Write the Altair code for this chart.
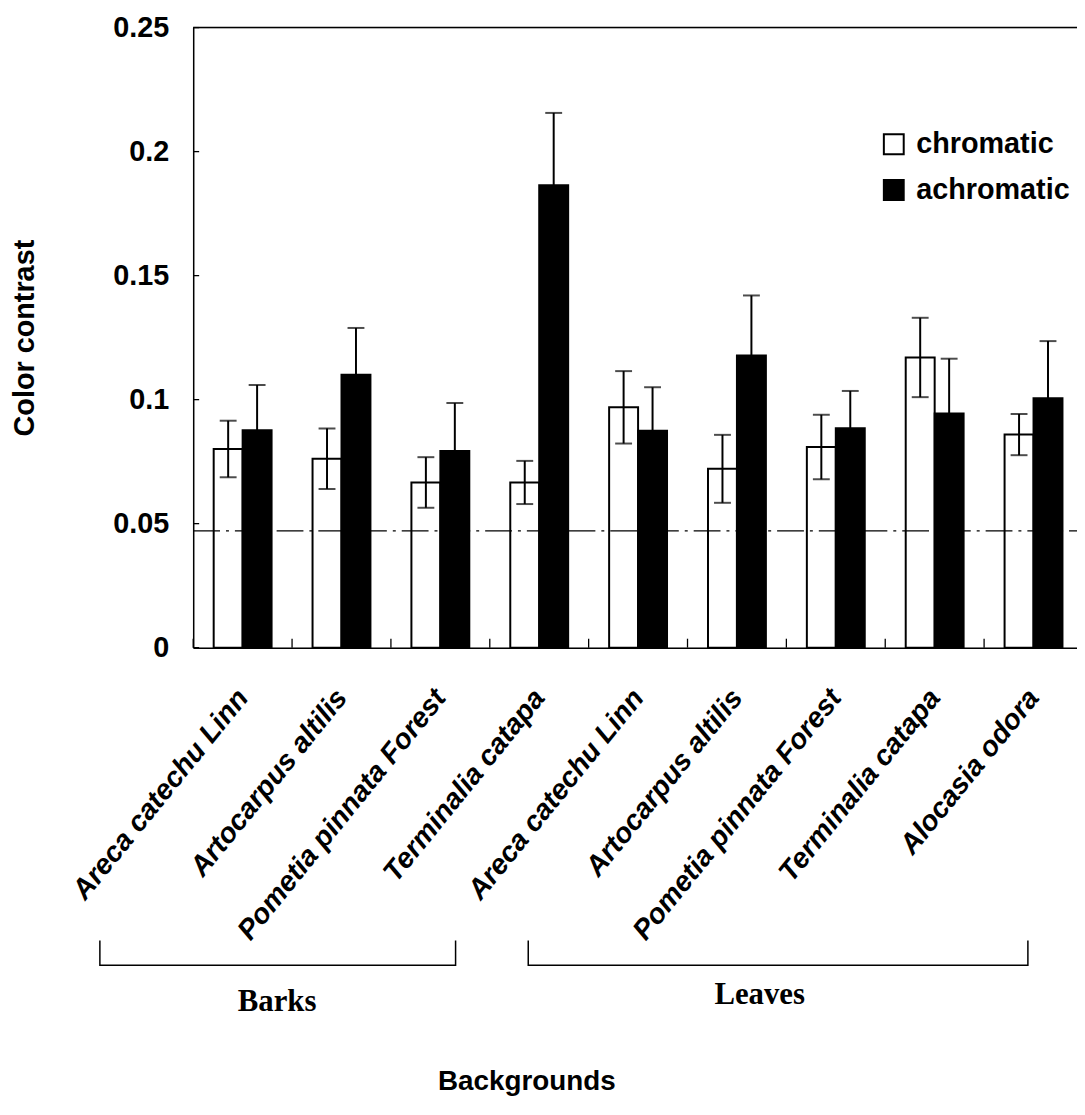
import altair as alt
import pandas as pd

# ---------------- data ----------------
names = ["Areca catechu Linn", "Artocarpus altilis", "Pometia pinnata Forest",
         "Terminalia catapa", "Areca catechu Linn", "Artocarpus altilis",
         "Pometia pinnata Forest", "Terminalia catapa", "Alocasia odora"]
series = ["chromatic", "achromatic"]
chromatic = [0.0801, 0.0762, 0.0666, 0.0666, 0.0969, 0.0721, 0.0809, 0.1170, 0.0859]
chromatic_err = [0.0114, 0.0122, 0.0102, 0.0087, 0.0146, 0.0137, 0.0130, 0.0160, 0.0083]
achromatic = [0.0877, 0.1100, 0.0793, 0.1864, 0.0875, 0.1178, 0.0885, 0.0944, 0.1006]
achromatic_err = [0.0182, 0.0189, 0.0193, 0.0292, 0.0175, 0.0242, 0.0150, 0.0221, 0.0230]
threshold = 0.0471
y_ticks = [0, 0.05, 0.1, 0.15, 0.2, 0.25]

# group brackets (x in category units, y in data units)
bracket_names = ["Barks", "Leaves"]
bracket_start = [-0.944, 3.389]
bracket_end = [2.654, 8.443]
bracket_top = -0.1181
bracket_bottom = -0.1281
bracket_label_x = [0.849, 5.730]
bracket_label_y = [-0.1428, -0.1400]

# ---------------- tables ----------------
keys = [f"{i}|{n}" for i, n in enumerate(names)]
rows = []
for k, c, ce, a, ae in zip(keys, chromatic, chromatic_err, achromatic, achromatic_err):
    rows.append(dict(cat=k, series="chromatic", value=c, lo=c - ce, hi=c + ce))
    rows.append(dict(cat=k, series="achromatic", value=a, lo=a - ae, hi=a + ae))
df = pd.DataFrame(rows)
cat_df = pd.DataFrame({"cat": keys})
ytick_df = pd.DataFrame({"v": y_ticks})

br_rows = []
for g, s, e in zip(bracket_names, bracket_start, bracket_end):
    br_rows += [dict(g=g, o=0, x=s, y=bracket_top), dict(g=g, o=1, x=s, y=bracket_bottom),
                dict(g=g, o=2, x=e, y=bracket_bottom), dict(g=g, o=3, x=e, y=bracket_top)]
br_df = pd.DataFrame(br_rows)
brl_df = pd.DataFrame({"g": bracket_names, "x": bracket_label_x, "y": bracket_label_y})

# ---------------- layout ----------------
W = 890
H = 624.4
RANGE = 896
SANS = "Liberation Sans"
SERIF = "Liberation Serif"

xscale = alt.Scale(domain=keys, range=[0, RANGE], paddingInner=0, paddingOuter=0)
offscale = alt.Scale(domain=series, paddingInner=0, paddingOuter=0.7077)
yscale = alt.Scale(domain=[0, 0.25], nice=False, zero=False)

x_axis = alt.Axis(
    labelExpr="split(datum.label, '|')[1]",
    labelAngle=-51, labelAlign="right", labelBaseline="middle",
    labelFont=SANS, labelFontSize=28.5, labelFontWeight="bold", labelFontStyle="italic",
    labelColor="black", labelPadding=45, labelLimit=0, labelOverlap=False,
    ticks=False, domainColor="black", domainWidth=1.5, grid=False,
    title="Backgrounds", titleFont=SANS, titleFontSize=28, titleFontWeight="bold",
    titleColor="black", titleX=335.5, titleY=436.7, titleAlign="center",
    titleBaseline="middle",
)
y_axis = alt.Axis(
    values=y_ticks, format=".2~f",
    labelFont=SANS, labelFontSize=29, labelFontWeight="bold", labelColor="black",
    labelPadding=24.5, ticks=False, domainColor="black", domainWidth=1.5, grid=False,
    title="Color contrast", titleFont=SANS, titleFontSize=29, titleFontWeight="bold",
    titleColor="black", titleX=-169.5, titleY=H / 2, titleAlign="center",
    titleBaseline="middle", titleAngle=-90,
)

bars = alt.Chart(df).mark_bar(stroke="black", strokeWidth=2).encode(
    x=alt.X("cat:N", scale=xscale, axis=x_axis, sort=keys),
    xOffset=alt.XOffset("series:N", scale=offscale, sort=series),
    y=alt.Y("value:Q", scale=yscale, axis=y_axis),
    fill=alt.Fill("series:N", scale=alt.Scale(domain=series, range=["white", "black"]),
                  legend=alt.Legend(orient="none", legendX=691, legendY=103, title=None,
                                    symbolType="square", symbolSize=400,
                                    symbolStrokeColor="black", symbolStrokeWidth=2,
                                    labelFont=SANS, labelFontSize=29, labelFontWeight="bold",
                                    labelColor="black", labelOffset=8, rowPadding=16,
                                    padding=0)),
)

err = alt.Chart(df).mark_rule(color="black", strokeWidth=2).encode(
    x=alt.X("cat:N", scale=xscale, sort=keys),
    xOffset=alt.XOffset("series:N", scale=offscale, sort=series),
    y=alt.Y("lo:Q", scale=yscale),
    y2="hi:Q",
)
cap_hi = alt.Chart(df).mark_tick(color="black", thickness=2, size=17, orient="horizontal").encode(
    x=alt.X("cat:N", scale=xscale, sort=keys),
    xOffset=alt.XOffset("series:N", scale=offscale, sort=series),
    y=alt.Y("hi:Q", scale=yscale),
)
cap_lo = alt.Chart(df).mark_tick(color="black", thickness=2, size=17, orient="horizontal").encode(
    x=alt.X("cat:N", scale=xscale, sort=keys),
    xOffset=alt.XOffset("series:N", scale=offscale, sort=series),
    y=alt.Y("lo:Q", scale=yscale),
)

thresh = alt.Chart(pd.DataFrame({"t": [threshold]})).mark_rule(
    color="black", strokeWidth=1.3, strokeDash=[27, 6, 3, 6]
).encode(y=alt.Y("t:Q", scale=yscale), x=alt.value(0), x2=alt.value(RANGE))

top_rule = alt.Chart(pd.DataFrame({"t": [y_ticks[-1]]})).mark_rule(
    color="black", strokeWidth=1.5
).encode(y=alt.Y("t:Q", scale=yscale), x=alt.value(0), x2=alt.value(RANGE))

xticks = alt.Chart(cat_df).mark_rule(color="black", strokeWidth=1.3).encode(
    x=alt.X("cat:N", scale=xscale, sort=keys, bandPosition=0),
    y=alt.value(H - 9), y2=alt.value(H),
)
yticks = alt.Chart(ytick_df).mark_rule(color="black", strokeWidth=1.3).encode(
    y=alt.Y("v:Q", scale=yscale), x=alt.value(0), x2=alt.value(6),
)

main = alt.layer(bars, err, cap_hi, cap_lo, thresh, top_rule, xticks, yticks)

ann_x = alt.Scale(domain=[0, 9], range=[0, RANGE], nice=False, zero=False)
brackets = alt.Chart(br_df).mark_line(color="black", strokeWidth=1.5).encode(
    x=alt.X("x:Q", scale=ann_x, axis=None),
    y=alt.Y("y:Q", scale=yscale),
    detail="g:N",
    order="o:Q",
)
bracket_text = alt.Chart(brl_df).mark_text(
    font=SERIF, fontSize=31, fontWeight="bold", color="black", align="center", baseline="middle"
).encode(
    x=alt.X("x:Q", scale=ann_x, axis=None),
    y=alt.Y("y:Q", scale=yscale),
    text="g:N",
)
annot = alt.layer(brackets, bracket_text)

chart = alt.layer(main, annot).resolve_scale(x="independent").properties(
    width=W, height=H,
    autosize=alt.AutoSizeParams(type="none"),
    padding={"left": 186.5, "top": 15.9, "right": 0, "bottom": 455},
).configure_view(stroke=None).configure(background="white")

chart.save("out.html", embed_options={"renderer": "svg", "actions": False})
